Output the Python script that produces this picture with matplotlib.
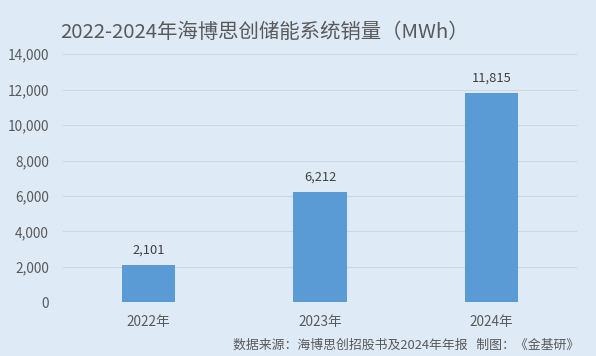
import matplotlib.pyplot as plt
from matplotlib.ticker import FuncFormatter

plt.rcParams['font.family'] = ['Noto Sans CJK SC', 'DejaVu Sans']

years = ['2022年', '2023年', '2024年']
sales_mwh = [2101, 6212, 11815]
y_ticks = [0, 2000, 4000, 6000, 8000, 10000, 12000, 14000]

BG = '#DEEBF7'
BAR = '#5B9BD5'
TEXT = '#595959'
GRID = '#CDD6E0'

fig = plt.figure(figsize=(5.96, 3.56), dpi=100, facecolor=BG)
ax = fig.add_axes([0.1057, 0.151, 0.8623, 0.6965], facecolor=BG)

x = range(len(years))
bars = ax.bar(x, sales_mwh, width=0.31, color=BAR, zorder=3)
for rect, v in zip(bars, sales_mwh):
    ax.annotate('{:,}'.format(v), (rect.get_x() + rect.get_width() / 2, v),
                xytext=(0, 6), textcoords='offset points', ha='center',
                va='bottom', fontsize=9.3, color='#404040')

ax.set_xlim(-0.5, 2.5)
ax.set_ylim(0, 14000)
ax.set_yticks(y_ticks)
ax.yaxis.set_major_formatter(FuncFormatter(lambda v, _: '{:,.0f}'.format(v)))
ax.set_xticks(list(x))
ax.set_xticklabels(years)
ax.tick_params(length=0, labelsize=9.8, labelcolor=TEXT)
ax.tick_params(axis='y', pad=10)
ax.tick_params(axis='x', pad=9)
ax.grid(axis='y', color=GRID, linewidth=0.8, zorder=0)
for s in ax.spines.values():
    s.set_visible(False)

fig.text(60 / 596, 1 - 33 / 356, '2022-2024年海博思创储能系统销量（MWh）',
         fontsize=14.7, color=TEXT, ha='left', va='center')
fig.text(233 / 596, 1 - 345 / 356,
         '数据来源：海博思创招股书及2024年年报   制图：《金基研》',
         fontsize=9.3, color=TEXT, ha='left', va='center')

fig.savefig('out.png', dpi=100, facecolor=BG)
